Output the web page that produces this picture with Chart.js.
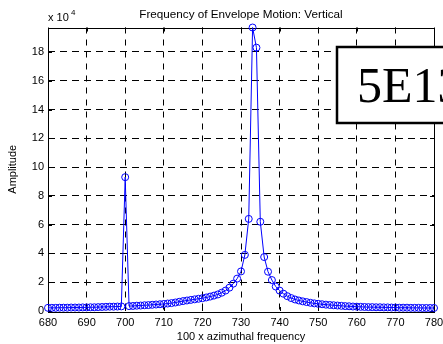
<!DOCTYPE html>
<html>
<head>
<meta charset="utf-8">
<script src="https://cdn.jsdelivr.net/npm/chart.js@4.4.0/dist/chart.umd.min.js"></script>
<style>
    html, body { margin: 0; padding: 0; background: #fff; }
    #wrap { width: 443px; height: 344px; }
</style>
</head>
<body>
<div id="wrap"><canvas id="chart"></canvas></div>
<script>
"use strict";

// 100 x azimuthal frequency
const freqs = [
    680, 681, 682, 683, 684, 685, 686, 687, 688, 689,
    690, 691, 692, 693, 694, 695, 696, 697, 698, 699,
    700, 701, 702, 703, 704, 705, 706, 707, 708, 709,
    710, 711, 712, 713, 714, 715, 716, 717, 718, 719,
    720, 721, 722, 723, 724, 725, 726, 727, 728, 729,
    730, 731, 732, 733, 734, 735, 736, 737, 738, 739,
    740, 741, 742, 743, 744, 745, 746, 747, 748, 749,
    750, 751, 752, 753, 754, 755, 756, 757, 758, 759,
    760, 761, 762, 763, 764, 765, 766, 767, 768, 769,
    770, 771, 772, 773, 774, 775, 776, 777, 778, 779,
    780
];

// Amplitude, in units of 10^4
const amps = [
    0.22, 0.22, 0.22, 0.23, 0.23, 0.23, 0.24, 0.24, 0.24, 0.25,
    0.25, 0.26, 0.26, 0.27, 0.28, 0.29, 0.30, 0.30, 0.31, 0.32,
    9.30, 0.34, 0.35, 0.37, 0.38, 0.40, 0.41, 0.43, 0.45, 0.47,
    0.49, 0.52, 0.55, 0.59, 0.64, 0.69, 0.73, 0.77, 0.81, 0.85,
    0.89, 0.94, 1.00, 1.07, 1.15, 1.27, 1.42, 1.62, 1.90, 2.25,
    2.75, 3.90, 6.40, 19.70, 18.30, 6.20, 3.75, 2.73, 2.15, 1.70,
    1.42, 1.20, 1.03, 0.90, 0.80, 0.73, 0.67, 0.62, 0.57, 0.53,
    0.50, 0.47, 0.44, 0.42, 0.40, 0.38, 0.36, 0.34, 0.33, 0.31,
    0.30, 0.29, 0.28, 0.27, 0.27, 0.26, 0.26, 0.25, 0.25, 0.24,
    0.24, 0.23, 0.23, 0.23, 0.22, 0.22, 0.22, 0.21, 0.21, 0.21,
    0.21
];

// Axis ranges and tick steps
const xRange = [680, 780];
const xStep = 10;
const yRange = [0, 19.7];
const yStep = 2;

const chartTitle = 'Frequency of Envelope Motion: Vertical';
const xTitle = '100 x azimuthal frequency';
const yTitle = 'Amplitude';
const boxText = '5E13';

const sans = '"Liberation Sans", Arial, sans-serif';

// Frame, inward ticks, title and exponent label (MATLAB look)
const framePlugin = {
    id: 'frame',
    beforeDatasetsDraw(chart) {
        const ctx = chart.ctx;
        const a = chart.chartArea;
        const xs = chart.scales.x;
        const ys = chart.scales.y;
        ctx.save();
        ctx.strokeStyle = '#000';
        ctx.lineWidth = 1;
        ctx.beginPath();
        xs.ticks.forEach(function (t) {
            var px = Math.round(xs.getPixelForValue(t.value)) + 0.5;
            ctx.moveTo(px, a.bottom); ctx.lineTo(px, a.bottom - 4);
            ctx.moveTo(px, a.top); ctx.lineTo(px, a.top + 4);
        });
        ys.ticks.forEach(function (t) {
            var py = Math.round(ys.getPixelForValue(t.value)) + 0.5;
            ctx.moveTo(a.left, py); ctx.lineTo(a.left + 4, py);
            ctx.moveTo(a.right, py); ctx.lineTo(a.right - 4, py);
        });
        ctx.stroke();
        ctx.strokeRect(Math.round(a.left) + 0.5, Math.round(a.top) + 0.5,
            Math.round(a.right - a.left), Math.round(a.bottom - a.top));

        // Title
        ctx.fillStyle = '#000';
        ctx.font = '11.7px ' + sans;
        ctx.textAlign = 'center';
        ctx.textBaseline = 'alphabetic';
        ctx.fillText(chartTitle, (a.left + a.right) / 2, 18);

        // Exponent label
        ctx.font = '11px ' + sans;
        ctx.textAlign = 'left';
        ctx.fillText('x 10', a.left, 21);
        ctx.font = '8px ' + sans;
        ctx.fillText('4', a.left + 23, 15);
        ctx.restore();
    },
    afterDraw(chart) {
        const ctx = chart.ctx;
        ctx.save();
        ctx.fillStyle = '#fff';
        ctx.fillRect(336, 46, 120, 78);
        ctx.strokeStyle = '#000';
        ctx.lineWidth = 2.5;
        ctx.strokeRect(337, 47, 120, 76);
        ctx.fillStyle = '#000';
        ctx.font = '50px "Liberation Serif", "Times New Roman", serif';
        ctx.textAlign = 'left';
        ctx.textBaseline = 'alphabetic';
        ctx.fillText(boxText, 357, 102);
        ctx.restore();
    }
};

const points = freqs.map(function (f, i) { return { x: f, y: amps[i] }; });

const config = {
    type: 'line',
    data: {
        datasets: [{
            data: points,
            borderColor: '#0000ff',
            borderWidth: 1,
            backgroundColor: 'transparent',
            pointRadius: 3.5,
            pointBorderWidth: 1,
            pointBorderColor: '#0000ff',
            pointBackgroundColor: 'transparent',
            tension: 0,
            clip: false
        }]
    },
    options: {
        responsive: false,
        animation: false,
        devicePixelRatio: 1,
        layout: { padding: { left: 0, right: 9, top: 27.5, bottom: 0 } },
        plugins: {
            legend: { display: false },
            title: { display: false },
            tooltip: { enabled: false }
        },
        scales: {
            x: {
                type: 'linear',
                min: xRange[0],
                max: xRange[1],
                afterFit: function (s) {
                    s.height = 33;
                    s.paddingLeft = 0;
                    s.paddingRight = 0;
                },
                border: { display: false, dash: [6, 6] },
                grid: {
                    color: function (c) {
                        return (c.tick && (c.tick.value === xRange[0] || c.tick.value === xRange[1])) ? 'transparent' : '#000';
                    },
                    drawTicks: false,
                    tickLength: 0
                },
                ticks: {
                    stepSize: xStep,
                    maxRotation: 0,
                    autoSkip: false,
                    padding: 5,
                    color: '#000',
                    font: { family: sans, size: 11 }
                },
                title: {
                    display: true,
                    text: xTitle,
                    color: '#000',
                    font: { family: sans, size: 11 },
                    padding: { top: 0, bottom: 0 }
                }
            },
            y: {
                type: 'linear',
                min: yRange[0],
                max: yRange[1],
                afterFit: function (s) {
                    s.width = 48;
                    s.paddingTop = 0;
                    s.paddingBottom = 0;
                },
                afterBuildTicks: function (s) {
                    s.ticks = s.ticks.filter(function (t) { return t.value % yStep === 0; });
                },
                border: { display: false, dash: [7, 5] },
                grid: {
                    color: function (c) {
                        return (c.tick && c.tick.value === yRange[0]) ? 'transparent' : '#000';
                    },
                    drawTicks: false,
                    tickLength: 0
                },
                ticks: {
                    stepSize: yStep,
                    padding: 4,
                    color: '#000',
                    font: { family: sans, size: 11 }
                },
                title: {
                    display: true,
                    text: yTitle,
                    color: '#000',
                    font: { family: sans, size: 11 },
                    padding: { top: 6, bottom: 0 }
                }
            }
        }
    },
    plugins: [framePlugin]
};

var ctx = document.getElementById('chart');
ctx.width = 443;
ctx.height = 344;
var myChart = new Chart(ctx, config);
</script>
</body>
</html>
